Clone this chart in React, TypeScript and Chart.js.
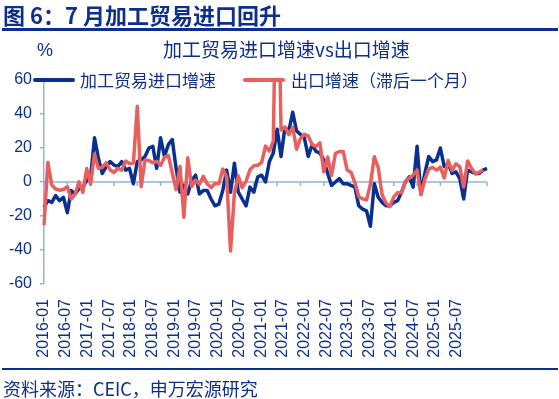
import React, { useEffect, useRef } from 'react';
import { Chart, registerables } from 'chart.js';

Chart.register(...registerables);

// ---------- data ----------
const startYear = 2016;
const endYear = 2025;
const endMonth = 7;

const monthLabels: string[] = [];
for (let y = startYear; y <= endYear; y++) {
  for (let m = 1; m <= 12; m++) {
    if (y === endYear && m > endMonth) break;
    monthLabels.push(`${y}-${String(m).padStart(2, '0')}`);
  }
}

const axisTickLabels: string[] = [
  '2016-01', '2016-07', '2017-01', '2017-07', '2018-01', '2018-07', '2019-01', '2019-07',
  '2020-01', '2020-07', '2021-01', '2021-07', '2022-01', '2022-07', '2023-01', '2023-07',
  '2024-01', '2024-07', '2025-01', '2025-07',
];

const yTickValues: number[] = [-60, -40, -20, 0, 20, 40, 60];

// 加工贸易进口增速 (%), 2016-01 .. 2025-07
const processingImportGrowth: number[] = [
  -15, -11, -12, -8, -11, -9, -18, -5, -7, -4, -3, 1,
  3, 26, 14, 5, 9, 12, 10, 9, 12, 7, 8, -1,
  12, 13, 15, 20, 21, 8, 26, 15, 22, 25, 8, -6,
  -2, -7, 1, 4, -7, -5, -5, -10, -14, -13, -5, 7,
  -6, 11, -6, -10, -14, -3, -6, 3, 4, 0, 12, 17,
  31, 15, 32, 30, 41, 30, 28, 26, 15, 22, 18, 17,
  13, 5, -2, 0, 2, -1, -1, -2, -3, -14, -16, -17,
  -26, -1, -9, -12, -14, -14, -12, -11, -6, 0, 3, -3,
  21, -7, 5, 15, 12, 13, 20, 9, 11, 5, 6, 2,
  -10, 7, 6, 5, 5, 7, 8,
];

// 出口增速（滞后一个月）(%), 2016-01 .. 2025-06
const exportGrowthLagged: number[] = [
  -25.4, 11.5, -1.8, -4.1, -4.8, -4.4, -2.8, -10.0, -7.3, 0.1, -6.1, 7.9,
  -1.3, 16.4, 8.0, 8.7, 11.3, 7.2, 5.5, 8.1, 6.9, 12.3, 10.9, 11.1,
  44.5, -2.7, 12.9, 12.6, 11.3, 12.2, 9.8, 14.5, 15.6, 5.4, -4.4, 9.1,
  -20.7, 14.2, -2.7, 1.1, -1.3, 3.3, -1.0, -3.2, -0.9, -1.1, 7.6, 3.0,
  -40.6, -6.6, 3.5, -3.3, 0.5, 7.2, 9.5, 9.9, 11.4, 21.1, 18.1, 24.0,
  154.9, 30.6, 32.3, 27.9, 32.2, 19.3, 25.6, 28.1, 27.1, 22.0, 20.9, 23.0,
  6.0, 14.7, 3.9, 16.9, 17.9, 18.0, 7.1, 5.7, -0.3, -8.7, -9.9, -10.5,
  -1.3, 14.8, 8.5, -7.5, -12.4, -14.5, -8.8, -6.2, -6.4, 0.5, 2.3, 4.0,
  7.0, -7.5, 1.5, 7.6, 8.6, 7.0, 8.7, 2.4, 12.7, 6.7, 10.7, 9.0,
  -3.0, 12.4, 8.1, 4.8, 5.8, 7.2,
];

const seriesNames = ['加工贸易进口增速', '出口增速（滞后一个月）'];

// ---------- styles ----------
const BLUE = '#08318f';
const RED = '#e8605e';
const TEXT = '#0d2f8c';
const AXIS = '#8db4e2';
const CJK = '"Noto Sans CJK SC", "Noto Sans", sans-serif';
const LATIN = '"Liberation Sans", Arial, sans-serif';

const zeroAxisPlugin = {
  id: 'zeroAxis',
  beforeDatasetsDraw(chart: any) {
    const { ctx, chartArea, scales } = chart;
    const y0 = scales.y.getPixelForValue(0);
    ctx.save();
    ctx.strokeStyle = AXIS;
    ctx.lineWidth = 1.5;
    ctx.beginPath();
    ctx.moveTo(chartArea.left, y0);
    ctx.lineTo(chartArea.right, y0);
    for (let i = 0; i < monthLabels.length; i += 6) {
      const x = scales.x.getPixelForValue(i);
      ctx.moveTo(x, y0);
      ctx.lineTo(x, y0 + 4);
    }
    ctx.stroke();
    ctx.restore();
  },
};

export default function App() {
  const canvasRef = useRef<HTMLCanvasElement | null>(null);

  useEffect(() => {
    if (!canvasRef.current) return;
    const chart = new Chart(canvasRef.current, {
      type: 'line',
      data: {
        labels: monthLabels,
        datasets: [
          {
            label: seriesNames[0],
            data: processingImportGrowth,
            borderColor: BLUE,
            backgroundColor: BLUE,
            borderWidth: 3.5,
            pointRadius: 0,
            tension: 0,
            borderJoinStyle: 'round',
            order: 2,
            xAxisID: 'x',
            yAxisID: 'y',
          },
          {
            label: seriesNames[1],
            data: exportGrowthLagged,
            borderColor: RED,
            backgroundColor: RED,
            borderWidth: 3.5,
            pointRadius: 0,
            tension: 0,
            borderJoinStyle: 'round',
            order: 1,
            xAxisID: 'x',
            yAxisID: 'y',
          },
        ],
      },
      options: {
        responsive: false,
        animation: false,
        events: [],
        layout: { padding: { top: 80, right: 72, bottom: 35, left: 0 } },
        plugins: {
          legend: { display: false },
          title: { display: false },
          tooltip: { enabled: false },
        },
        scales: {
          x: { type: 'category', display: false, offset: false },
          xl: {
            type: 'linear',
            position: 'bottom',
            min: 0,
            max: 20.4,
            grid: { display: false, drawTicks: false },
            border: { display: false },
            afterBuildTicks: (s: any) => {
              s.ticks = axisTickLabels.map((_, k) => ({ value: k }));
            },
            afterFit: (s: any) => {
              s.height = 80;
            },
            ticks: {
              autoSkip: false,
              maxRotation: 90,
              minRotation: 90,
              padding: 15,
              color: TEXT,
              font: { family: LATIN, size: 16 },
              callback: (v: any) => axisTickLabels[v as number] ?? '',
            },
          },
          y: {
            min: yTickValues[0],
            max: yTickValues[yTickValues.length - 1],
            afterBuildTicks: (s: any) => {
              s.ticks = yTickValues.map((v) => ({ value: v }));
            },
            afterFit: (s: any) => {
              s.width = 44;
            },
            ticks: {
              padding: 8,
              color: TEXT,
              font: { family: LATIN, size: 16 },
            },
            grid: {
              drawOnChartArea: false,
              drawTicks: true,
              tickLength: 4,
              color: AXIS,
              lineWidth: 1.5,
            },
            border: { color: AXIS, width: 1.5 },
          },
        },
      } as any,
      plugins: [zeroAxisPlugin],
    });
    return () => chart.destroy();
  }, []);

  const abs = (extra: React.CSSProperties): React.CSSProperties => ({
    position: 'absolute',
    whiteSpace: 'nowrap',
    color: TEXT,
    fontFamily: CJK,
    ...extra,
  });

  return (
    <div
      style={{
        position: 'fixed',
        left: 0,
        top: 0,
        width: 559,
        height: 399,
        background: '#ffffff',
        overflow: 'hidden',
      }}
    >
      <canvas
        ref={canvasRef}
        width={559}
        height={399}
        style={{ position: 'absolute', left: 0, top: 0, width: 559, height: 399 }}
      />
      <div style={abs({ left: 3, top: 2, fontSize: 22, lineHeight: '24px', fontWeight: 700 })}>
        图 6：7 月加工贸易进口回升
      </div>
      <div style={{ position: 'absolute', left: 2, top: 28, width: 556, height: 3, background: '#0b2f8c' }} />
      <div style={abs({ left: 37, top: 39, fontSize: 18, lineHeight: '22px', fontFamily: LATIN })}>%</div>
      <div style={abs({ left: 163, top: 38, fontSize: 19, lineHeight: '22px' })}>
        加工贸易进口增速vs出口增速
      </div>
      <div style={{ position: 'absolute', left: 33, top: 78, width: 42, height: 4, background: BLUE, borderRadius: 2 }} />
      <div style={abs({ left: 80, top: 69, fontSize: 17, lineHeight: '22px' })}>{seriesNames[0]}</div>
      <div style={{ position: 'absolute', left: 243, top: 78, width: 42, height: 4, background: RED, borderRadius: 2 }} />
      <div style={abs({ left: 291, top: 69, fontSize: 17, lineHeight: '22px' })}>{seriesNames[1]}</div>
      <div style={{ position: 'absolute', left: 2, top: 368, width: 556, height: 2, background: '#0b2f8c' }} />
      <div style={abs({ left: 3, top: 377, fontSize: 18, lineHeight: '22px' })}>资料来源：CEIC，申万宏源研究</div>
    </div>
  );
}
